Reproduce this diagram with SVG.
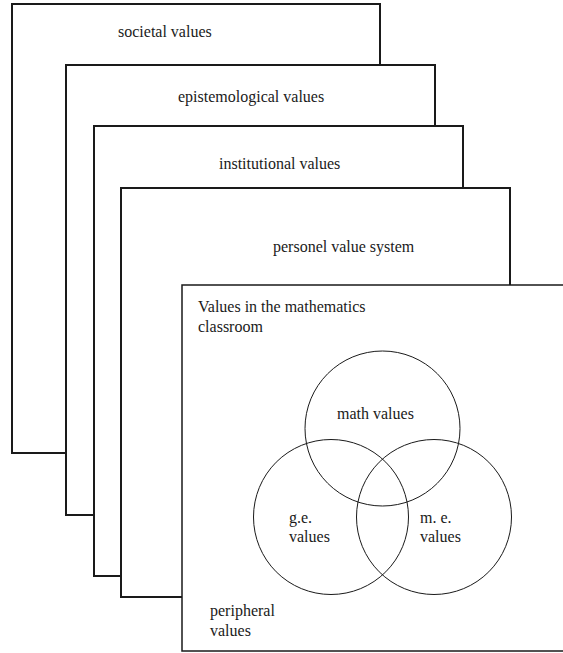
<svg xmlns="http://www.w3.org/2000/svg" width="563" height="653" viewBox="0 0 563 653">
<style>
.layer{fill:#fff;stroke:#1a1a1a;stroke-width:2}
.circ{fill:none;stroke:#1a1a1a;stroke-width:1}
text{font-family:"Liberation Serif","Times New Roman",serif;font-size:16px;fill:#1a1a1a}
</style>
<rect width="563" height="653" fill="#fff"/>
<g id="societal">
<rect class="layer" x="12" y="4" width="368" height="449"/>
<text x="118" y="37">societal values</text>
</g>
<g id="epistemological">
<rect class="layer" x="66" y="65" width="369" height="450"/>
<text x="178" y="102">epistemological values</text>
</g>
<g id="institutional">
<rect class="layer" x="94" y="126" width="369" height="450"/>
<text x="219" y="169">institutional values</text>
</g>
<g id="personel">
<rect class="layer" x="121" y="188" width="389" height="409"/>
<text x="273" y="252">personel value system</text>
</g>
<g id="classroom">
<rect class="layer" x="182" y="285" width="400" height="366" style="stroke-width:1.5"/>
<text x="198" y="312">Values in the mathematics</text>
<text x="198" y="332">classroom</text>
<text x="210" y="616">peripheral</text>
<text x="210" y="636">values</text>
</g>
<g id="connectors"></g>
<g id="math">
<circle class="circ" cx="382.5" cy="428.5" r="77.5"/>
<text x="337" y="419">math values</text>
</g>
<g id="ge">
<circle class="circ" cx="331" cy="517" r="77.5"/>
<text x="289" y="523">g.e.</text>
<text x="289" y="542">values</text>
</g>
<g id="me">
<circle class="circ" cx="434" cy="517" r="77.5"/>
<text x="420" y="523">m. e.</text>
<text x="420" y="542">values</text>
</g>
</svg>
